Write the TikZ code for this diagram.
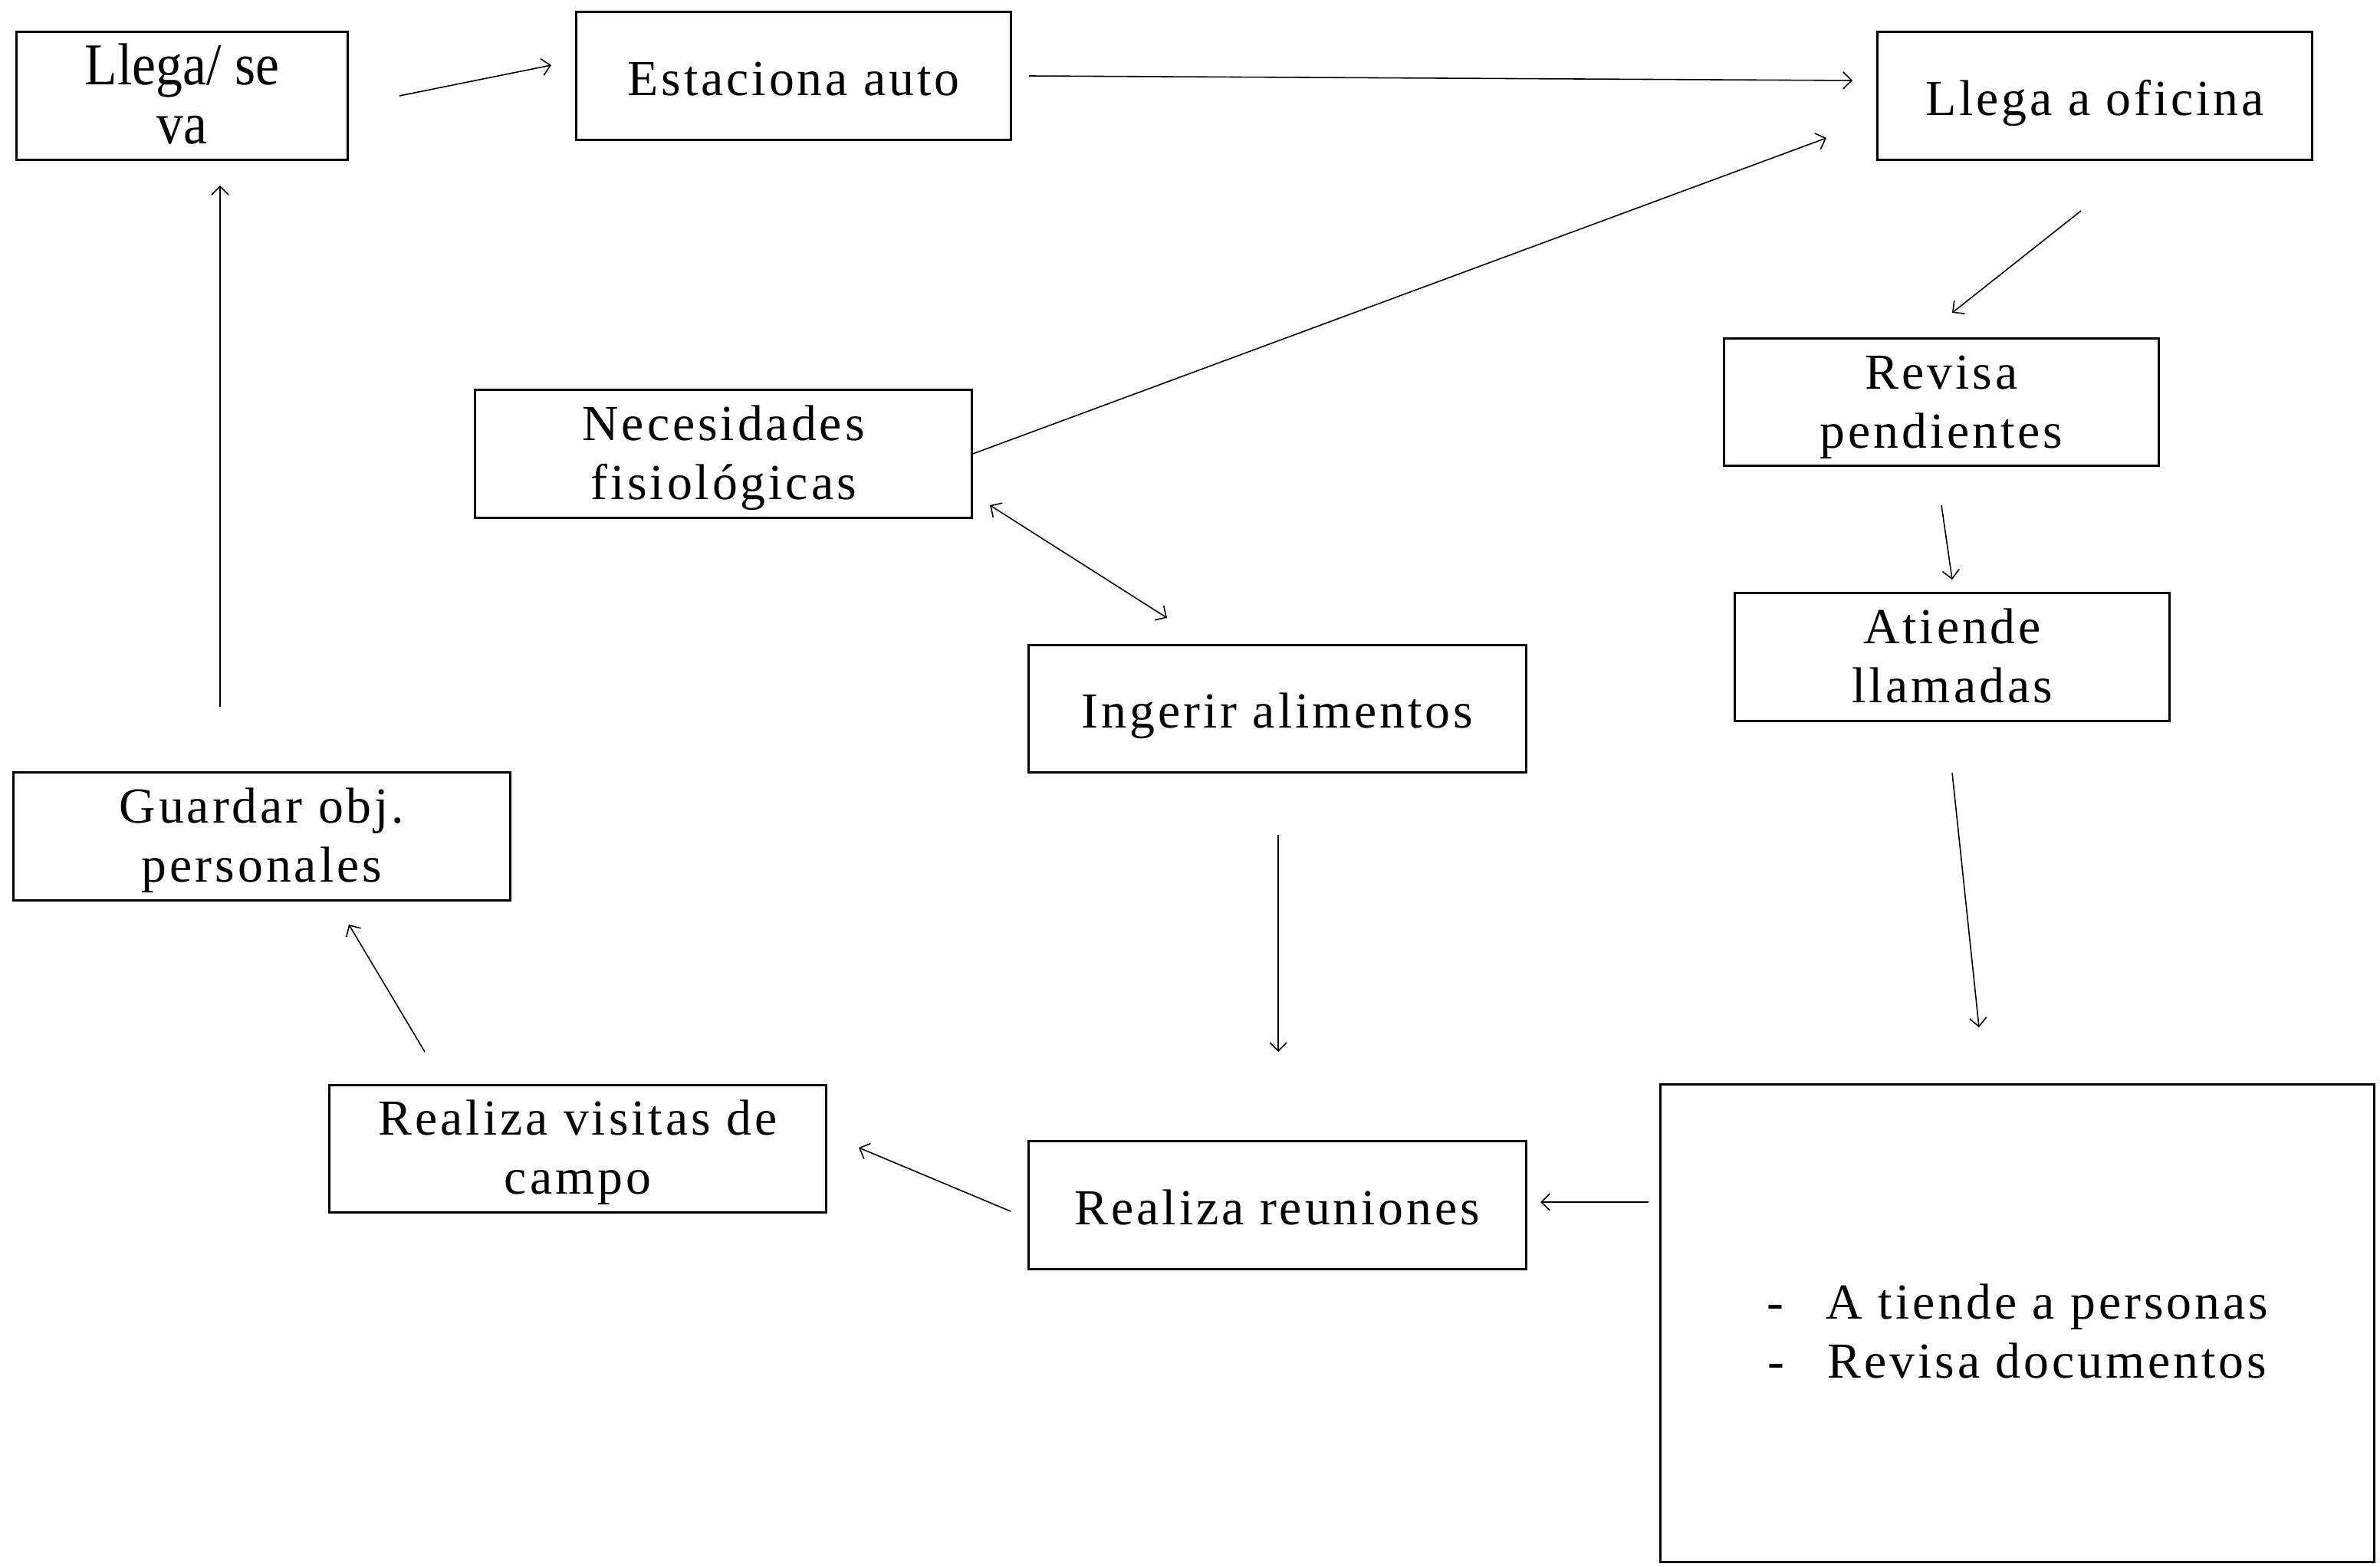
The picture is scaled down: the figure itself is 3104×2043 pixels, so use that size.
\documentclass[tikz,border=0pt]{standalone}
\usepackage{fontspec}
\setmainfont{Liberation Serif}[LetterSpace=6]
\newfontfamily\condfont{Liberation Serif}[FakeStretch=0.9]
\usetikzlibrary{arrows.meta}
% #1 = downward shift, #2 = lines
\newcommand{\bt}[2][0.1cm]{\raisebox{-#1}[\height][\depth]{\begin{tabular}{@{}c@{}}#2\end{tabular}}}
\begin{document}
\begin{tikzpicture}[x=0.01cm,y=-0.01cm,
  box/.style={draw,line width=0.85pt,inner sep=0pt,
    font=\fontsize{18.7}{21.9}\selectfont},
  conn/.style={line width=0.45pt,-{Straight Barb[length=1.1mm,width=2.2mm]}},
  bconn/.style={line width=0.45pt,{Straight Barb[length=1.1mm,width=2.2mm]}-{Straight Barb[length=1.1mm,width=2.2mm]}}]
\useasboundingbox (0,0) rectangle (3104,2043);
\fill[white] (0,0) rectangle (3104,2043);
% boxes
\node[box,minimum width=4.31cm,minimum height=1.66cm,font=\condfont\fontsize{22}{21.9}\selectfont] (A) at (237.5,125) {\bt[0.09cm]{Llega/ se\\va}};
\node[box,minimum width=5.66cm,minimum height=1.66cm] (B) at (1035,99) {\bt{Estaciona auto}};
\node[box,minimum width=5.66cm,minimum height=1.66cm] (C) at (2732,125) {\bt{Llega a oficina}};
\node[box,minimum width=5.66cm,minimum height=1.66cm] (D) at (2532,524.5) {\bt[0.06cm]{Revisa\\pendientes}};
\node[box,minimum width=5.66cm,minimum height=1.66cm] (E) at (2546,857) {\bt[0.06cm]{Atiende\\llamadas}};
\node[box,minimum width=6.47cm,minimum height=1.66cm] (F) at (943.5,592) {\bt[0.06cm]{Necesidades\\fisiológicas}};
\node[box,minimum width=6.48cm,minimum height=1.66cm] (G) at (1666,924.5) {\bt{Ingerir alimentos}};
\node[box,minimum width=6.47cm,minimum height=1.66cm] (H) at (341.5,1091) {\bt[0.06cm]{Guardar obj.\\personales}};
\node[box,minimum width=6.47cm,minimum height=1.66cm] (I) at (753.5,1498.5) {\bt[0.05cm]{Realiza visitas de\\campo}};
\node[box,minimum width=6.48cm,minimum height=1.66cm] (J) at (1666,1572) {\bt{Realiza reuniones}};
\node[box,minimum width=9.30cm,minimum height=6.22cm] (K) at (2631,1726) {\bt[0.18cm]{-\hspace{0.85em}A tiende a personas\\-\hspace{0.85em}Revisa documentos}};
% connector ends
\coordinate (a1) at (521,125);  \coordinate (b0) at (719,85);
\coordinate (b1) at (1342,99);  \coordinate (c0) at (2416,105);
\coordinate (c2) at (2382,180);
\coordinate (c1) at (2714,275); \coordinate (d0) at (2546,408);
\coordinate (d1) at (2532,659); \coordinate (e0) at (2546,756);
\coordinate (e1) at (2546,1008); \coordinate (k0) at (2581,1340);
\coordinate (f1) at (1291,659); \coordinate (g0) at (1522,806);
\coordinate (g1) at (1667,1089); \coordinate (j0) at (1667,1372);
\coordinate (k1) at (2150,1568); \coordinate (j1) at (2009,1568);
\coordinate (j2) at (1318,1580); \coordinate (i0) at (1120,1497);
\coordinate (i1) at (554,1372); \coordinate (h0) at (455,1206);
\coordinate (h1) at (287,922); \coordinate (a0) at (287,242);
% connectors
\draw[conn] (a1) -- (b0);
\draw[conn] (b1) -- (c0);
\draw[conn] (F.east) -- (c2);
\draw[conn] (c1) -- (d0);
\draw[conn] (d1) -- (e0);
\draw[conn] (e1) -- (k0);
\draw[bconn] (f1) -- (g0);
\draw[conn] (g1) -- (j0);
\draw[conn] (k1) -- (j1);
\draw[conn] (j2) -- (i0);
\draw[conn] (i1) -- (h0);
\draw[conn] (h1) -- (a0);
\end{tikzpicture}
\end{document}
